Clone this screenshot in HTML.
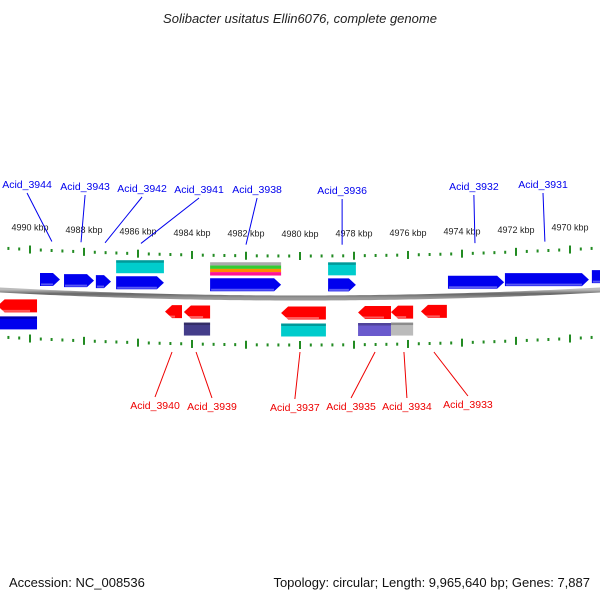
<!DOCTYPE html>
<html><head><meta charset="utf-8"><style>
body{margin:0;background:#fff}
svg{display:block;font-family:"Liberation Sans",sans-serif}
</style></head><body>
<svg id="c" width="600" height="600">
<defs>
<linearGradient id="bb" x1="0" y1="0" x2="0" y2="1"><stop offset="0" stop-color="#bbb"/><stop offset="0.5" stop-color="#666"/><stop offset="1" stop-color="#999"/></linearGradient>
</defs>
<text x="300" y="23" text-anchor="middle" font-size="13" font-style="italic" fill="#222">Solibacter usitatus Ellin6076, complete genome</text>
<text x="9" y="587" font-size="13" fill="#111">Accession: NC_008536</text>
<text x="590" y="587" text-anchor="end" font-size="13" fill="#111">Topology: circular; Length: 9,965,640 bp; Genes: 7,887</text>
</svg>
<script>
const tickKbp=[4990,4988,4986,4984,4982,4980,4978,4976,4974,4972,4970];
const fwdStart=[4989.63,4988.74,4987.56,4986.81,4983.33,4978.96,4974.52,4972.41,4969.19];
const fwdEnd=[4988.89,4987.63,4987.0,4985.04,4980.70,4977.93,4972.44,4969.30,4968.0];
const revStart=[4991.2,4985.0,4984.3,4980.7,4977.85,4976.63,4975.52];
const revEnd=[4989.74,4984.37,4983.33,4979.04,4976.63,4975.81,4974.56];
const topAnnStart=[4986.81,4983.33,4978.96];
const topAnnEnd=[4985.04,4980.70,4977.93];
const botAnnStart=[4991.2,4984.3,4980.7,4977.85,4976.63];
const botAnnEnd=[4989.74,4983.33,4979.04,4976.63,4975.81];
const botAnnColor=['#0000ee','#443d8a','#00cccc','#6a5acd','#bbbbbb'];
const fwdLabels=['Acid_3944','Acid_3943','Acid_3942','Acid_3941','Acid_3938','Acid_3936','Acid_3932','Acid_3931'];
const fwdLabelPos=[4990.11,4987.96,4985.85,4983.74,4981.59,4978.44,4973.56,4971.0];
const fwdTarget=[4989.19,4988.11,4987.22,4985.89,4982.0,4978.44,4973.52,4970.93];
const revLabels=['Acid_3940','Acid_3939','Acid_3937','Acid_3935','Acid_3934','Acid_3933'];
const revLabelPos=[4985.37,4983.26,4980.19,4978.11,4976.04,4973.78];
const revTarget=[4984.74,4983.85,4980.0,4977.22,4976.15,4975.04];
const NS='http://www.w3.org/2000/svg';
const svg=document.getElementById('c');
const X=k=>30+(4990-k)*27;
const arc=x=>{const u=(x-300)/300;return 8*(1-u*u);};
function mk(t,a){const e=document.createElementNS(NS,t);for(const k in a)e.setAttribute(k,a[k]);svg.appendChild(e);return e;}
let d='';for(let x=-5;x<=605;x+=5){d+=(x<0?'M':'L')+x+','+(290+arc(x));}
let bb=mk('path',{d:d,stroke:'url(#bb)','stroke-width':5,fill:'none'});


for(let k=4991.2;k>=4967.9;k-=0.4){const kk=Math.round(k*10)/10;const x=X(kk);const major=Math.abs(kk/2-Math.round(kk/2))<0.01;const h=major?8:3;
[[248,'upper'],[337,'lower']].forEach(([b,n])=>{const y=b+arc(x);let t=mk('line',{x1:x,x2:x,y1:y-h/2,y2:y+h/2,stroke:'#228b22','stroke-width':2});

});}
tickKbp.forEach(k=>{const x=X(k);const u=(x-300)/300;let t=mk('text',{x:x,y:237-8*u*u,'text-anchor':'middle','font-size':9,fill:'#222'});t.textContent=k+' kbp';

});
function gene(s,e,yc,col,dir,name){const x1=X(s),x2=X(e);const xm=(x1+x2)/2;const yy=yc+arc(xm);const h=13,a=Math.min(7,Math.abs(x2-x1)/2);
let p;if(dir>0)p=[[x1,yy-h/2],[x2-a,yy-h/2],[x2,yy],[x2-a,yy+h/2],[x1,yy+h/2]];else p=[[x2,yy-h/2],[x1+a,yy-h/2],[x1,yy],[x1+a,yy+h/2],[x2,yy+h/2]];
let g=mk('polygon',{points:p.map(q=>q.join(',')).join(' '),fill:col});


let hl=mk('line',{x1:Math.min(x1,x2)+1,x2:Math.max(x1,x2)-a,y1:yy+h/2-1.5,y2:yy+h/2-1.5,stroke:'rgba(255,255,255,0.35)','stroke-width':2});

}
function box(s,e,yc,col,name){const x1=X(s),x2=X(e);const yy=yc+arc((x1+x2)/2);let r=mk('rect',{x:x1,y:yy-6.5,width:x2-x1,height:13,fill:col});


let t=mk('rect',{x:x1,y:yy-6.5,width:x2-x1,height:2.5,fill:'rgba(0,0,0,0.25)'});

}
fwdStart.forEach((s,i)=>gene(s,fwdEnd[i],277,'#0000ee',1,'forward-gene'));
revStart.forEach((s,i)=>gene(s,revEnd[i],305,'#ff0000',-1,'reverse-gene'));
topAnnStart.forEach((s,i)=>{if(i==1){const cols=['#aaaaaa','#33cc33','#ff8c00','#ff1493'];const x1=X(s),x2=X(topAnnEnd[i]);const yy=261+arc((x1+x2)/2);cols.forEach((c,j)=>{let r=mk('rect',{x:x1,y:yy-6.5+j*3.3,width:x2-x1,height:3.4,fill:c});

});}else box(s,topAnnEnd[i],261,'#00cccc','cds-feature');});
botAnnStart.forEach((s,i)=>box(s,botAnnEnd[i],322,botAnnColor[i],'reverse-feature'));
function label(txt,kx,ty,tk,ly,col,name){const tx=X(kx),tgx=X(tk);let l=mk('line',{x1:tx,y1:ty<300?ty+5:ty-12,x2:tgx,y2:ly,stroke:col,'stroke-width':1});


let t=mk('text',{x:tx,y:ty,'text-anchor':'middle','font-size':10.5,fill:col});t.textContent=txt;

}
const fTy=[188,190,192,193,193,194,190,188];
fwdLabels.forEach((n,i)=>label(n,fwdLabelPos[i],fTy[i],fwdTarget[i],240+arc(X(fwdTarget[i]))*0.6,'#0000ee','gene-label-forward'));
const rTy=[409,410,411,410,410,408];
revLabels.forEach((n,i)=>label(n,revLabelPos[i],rTy[i],revTarget[i],352,'#ee0000','gene-label-reverse'));
</script>
</body></html>
